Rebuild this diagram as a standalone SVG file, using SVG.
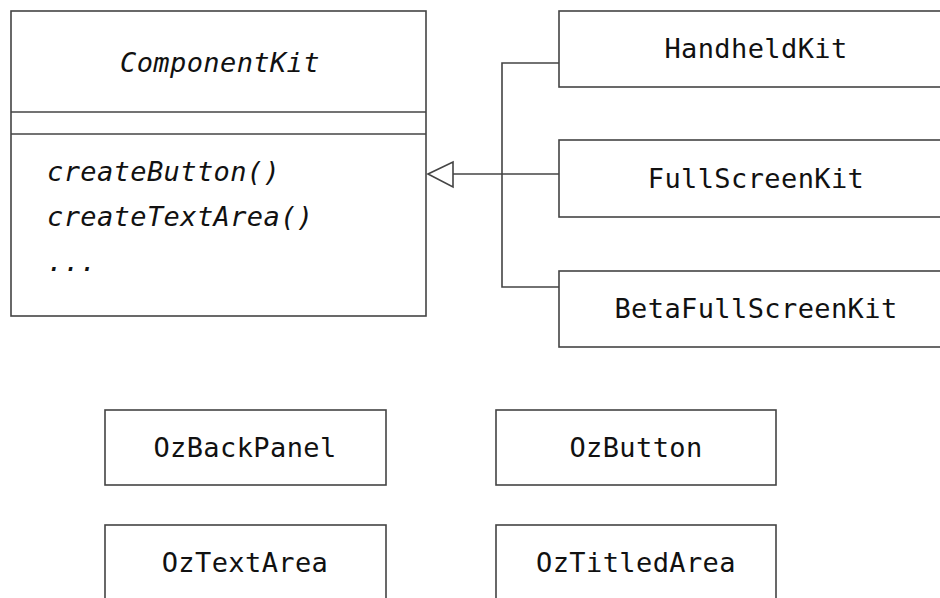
<svg xmlns="http://www.w3.org/2000/svg" width="940" height="598" viewBox="0 0 940 598">
<style>
.box{fill:#fff;stroke:#444;stroke-width:1.6}
.ln{fill:none;stroke:#444;stroke-width:1.6}
.t{font-family:"DejaVu Sans Mono","Liberation Mono",monospace;font-size:27px;letter-spacing:0.4px;fill:#111}
.c{text-anchor:middle}
.i{font-style:italic}
</style>
<rect width="940" height="598" fill="#fff"/>
<g id="ComponentKit">
<rect class="box" x="11" y="11" width="415" height="305"/>
<line class="ln" x1="11" y1="112" x2="426" y2="112"/>
<line class="ln" x1="11" y1="134" x2="426" y2="134"/>
<text class="t i c" x="220" y="72">ComponentKit</text>
<text class="t i" x="47" y="181">createButton()</text>
<text class="t i" x="47" y="226">createTextArea()</text>
<text class="t i" x="47" y="271">...</text>
</g>
<g id="HandheldKit">
<rect class="box" x="559" y="11" width="400" height="76"/>
<text class="t c" x="756" y="58">HandheldKit</text>
</g>
<g id="FullScreenKit">
<rect class="box" x="559" y="140" width="400" height="77"/>
<text class="t c" x="756" y="188">FullScreenKit</text>
</g>
<g id="BetaFullScreenKit">
<rect class="box" x="559" y="271" width="400" height="76"/>
<text class="t c" x="756" y="318">BetaFullScreenKit</text>
</g>
<g id="OzBackPanel">
<rect class="box" x="105" y="410" width="281" height="75"/>
<text class="t c" x="245" y="457">OzBackPanel</text>
</g>
<g id="OzButton">
<rect class="box" x="496" y="410" width="280" height="75"/>
<text class="t c" x="636" y="457">OzButton</text>
</g>
<g id="OzTextArea">
<rect class="box" x="105" y="525" width="281" height="90"/>
<text class="t c" x="245" y="572">OzTextArea</text>
</g>
<g id="OzTitledArea">
<rect class="box" x="496" y="525" width="280" height="90"/>
<text class="t c" x="636" y="572">OzTitledArea</text>
</g>
<g id="connectors">
<path class="ln" d="M559 63 H502 V287 H559"/>
<path class="ln" d="M559 174 H453"/>
<polygon class="box" points="428,174 453,162 453,187"/>
</g>
</svg>
